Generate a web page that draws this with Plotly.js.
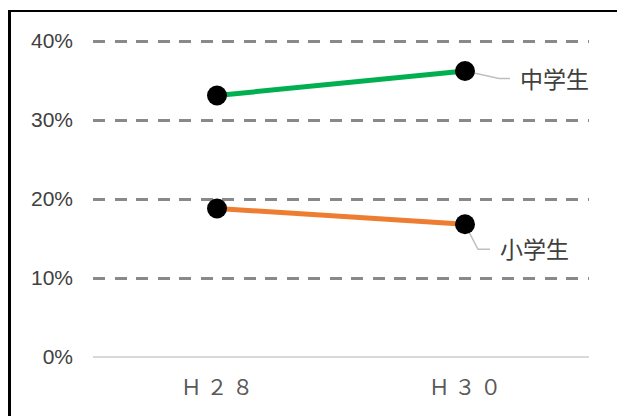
<!DOCTYPE html>
<html>
<head>
<meta charset="utf-8">
<script src="https://cdn.plot.ly/plotly-3.0.1.min.js"></script>
<style>
  html, body { margin: 0; padding: 0; background: #fff; }
  #wrap { position: relative; width: 617px; height: 416px; overflow: hidden; }
  #chart { position: absolute; left: 0; top: 0; width: 617px; height: 416px; }
  #frame { position: absolute; left: 8px; top: 10px; width: 700px; height: 500px;
           border-left: 3px solid #000; border-top: 2px solid #000; pointer-events: none; }
</style>
</head>
<body>
<div id="wrap">
  <div id="chart"></div>
  <div id="frame"></div>
</div>
<script>
// ---- data ----
const categories = ['Ｈ２８', 'Ｈ３０'];
const juniorHigh = [33.1, 36.2];   // 中学生 (%)
const elementary = [18.8, 16.8];   // 小学生 (%)
const seriesNames = ['中学生', '小学生'];
const yTickVals = [0, 10, 20, 30, 40];
const yTickText = ['0%', '10%', '20%', '30%', '40%'];

const tickTextX = categories.map(c => Array.from(c).join(' '));

const lineTrace = (y, color, name) => ({
  type: 'scatter', mode: 'lines+markers', name: name,
  x: categories, y: y,
  line: { color: color, width: 5 },
  marker: { color: '#000', size: 20, line: { width: 0 } },
  hoverinfo: 'skip', cliponaxis: false
});

const data = [
  lineTrace(juniorHigh, '#00b050', seriesNames[0]),
  lineTrace(elementary, '#ed7d31', seriesNames[1])
];

const labelFont = { family: '"Noto Sans CJK JP", "Noto Sans", sans-serif', size: 23, color: '#404040' };
const pad = 8 / 7.9;

const layout = {
  width: 617, height: 416,
  margin: { l: 93, r: 28, t: 33, b: 51 },
  paper_bgcolor: '#fff', plot_bgcolor: '#fff',
  showlegend: false,
  xaxis: {
    type: 'category', range: [-0.5, 1.5],
    showgrid: false, zeroline: false, showline: false, ticks: '',
    tickmode: 'array', tickvals: categories, ticktext: tickTextX,
    ticklabelstandoff: 8,
    tickfont: { family: '"Noto Sans CJK JP", sans-serif', size: 21, color: '#595959' }
  },
  yaxis: {
    range: [-pad, 40 + pad],
    tickmode: 'array', tickvals: yTickVals, ticktext: yTickText,
    showgrid: true, gridcolor: '#898989', gridwidth: 3, griddash: '12px,9.5px',
    zeroline: true, zerolinecolor: '#d9d9d9', zerolinewidth: 1.4,
    showline: false, ticks: '', ticklabelstandoff: 19,
    tickfont: { family: '"Liberation Sans", Arial, sans-serif', size: 21, color: '#404040' }
  },
  shapes: [
    { type: 'path', layer: 'below', xref: 'x', yref: 'y',
      xsizemode: 'pixel', ysizemode: 'pixel',
      xanchor: categories[1], yanchor: juniorHigh[1],
      path: 'M0,0L34,-7.5L45,-7.5', line: { color: '#bfbfbf', width: 1.5 } },
    { type: 'path', layer: 'below', xref: 'x', yref: 'y',
      xsizemode: 'pixel', ysizemode: 'pixel',
      xanchor: categories[1], yanchor: elementary[1],
      path: 'M0,0L13,-25L25,-25', line: { color: '#bfbfbf', width: 1.5 } }
  ],
  annotations: [
    { x: categories[1], y: juniorHigh[1], xref: 'x', yref: 'y', text: seriesNames[0],
      showarrow: false, xanchor: 'left', yanchor: 'middle', xshift: 53, yshift: -6.5, font: labelFont },
    { x: categories[1], y: elementary[1], xref: 'x', yref: 'y', text: seriesNames[1],
      showarrow: false, xanchor: 'left', yanchor: 'middle', xshift: 33, yshift: -24, font: labelFont }
  ]
};

Plotly.newPlot('chart', data, layout, { staticPlot: true, displayModeBar: false });
</script>
</body>
</html>
